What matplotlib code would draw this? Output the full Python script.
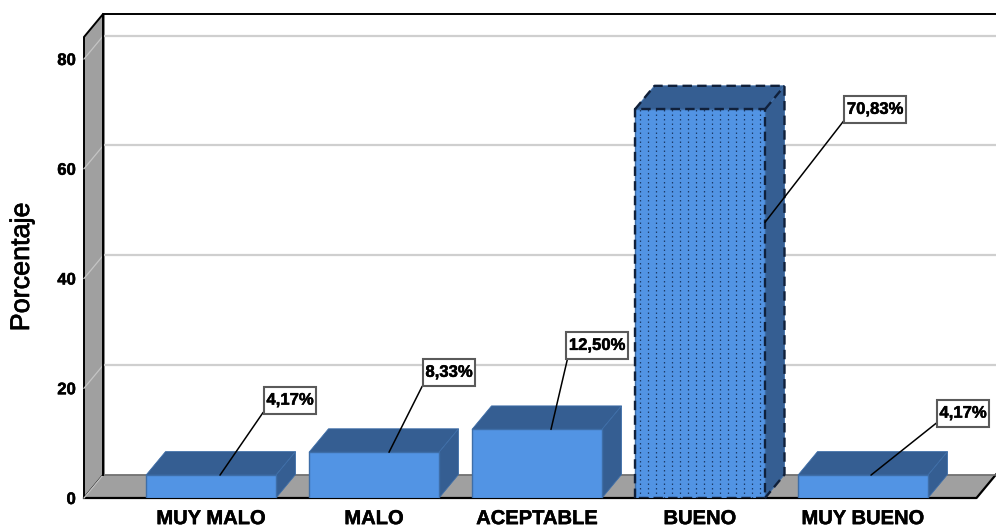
import matplotlib
matplotlib.use("Agg")
import matplotlib.pyplot as plt
from matplotlib.patches import Polygon
from matplotlib.path import Path
from matplotlib.transforms import ScaledTranslation
import matplotlib.patheffects as pe
import numpy as np

categories = ["MUY MALO", "MALO", "ACEPTABLE", "BUENO", "MUY BUENO"]
values = [4.17, 8.33, 12.50, 70.83, 4.17]
labels = ["4,17%", "8,33%", "12,50%", "70,83%", "4,17%"]
y_ticks = [0, 20, 40, 60, 80]

W, H = 996, 527
FACE, DARK, WALL = "#5294E4", "#355E92", "#A0A0A0"
FONT = "Liberation Sans"
# pixel geometry of the plot
L, R, B, T = 84, 996, 498, 37
STEP, PXU = 163.0, 5.4875
DX, DY = 19.5 / STEP, 23.5 / PXU
BAR_W = 130 / STEP
# label placement, pixels: anchor shift from bar centre/top, then box centre from anchor
anchor_shift = [(9, 0), (15, 0), (14, 0), (65, -113), (8, 0)]
box_offset = [(70, 75), (60, 80), (46, 84), (110, 113), (92, 62)]
heavy = [pe.withStroke(linewidth=0.35, foreground="black")]

def label_box(x0, y0, w, h, mutation_size):
    """Rectangle with more vertical than horizontal padding."""
    px, py = 2.5, 6.0
    x1, y1 = x0 - px, y0 - py
    x2, y2 = x0 + w + px, y0 + h + py
    return Path([(x1, y1), (x2, y1), (x2, y2), (x1, y2), (x1, y1)], closed=True)

fig = plt.figure(figsize=(W / 100, H / 100), dpi=100)
ax = fig.add_axes([L / W, 1 - B / H, (R - L) / W, (B - T) / H])
ax.set_xlim((L - 211) / STEP, (R - 211) / STEP)
ax.set_ylim(0, (B - T) / PXU)
xmin, xmax = ax.get_xlim()
ymin, ymax = ax.get_ylim()
for s in ax.spines.values():
    s.set_visible(False)

def poly(pts, **kw):
    p = Polygon(pts, closed=True, clip_on=False, **kw)
    ax.add_patch(p)
    return p

# walls
poly([(xmin, 0), (xmin + DX, DY), (xmin + DX, ymax + DY), (xmin, ymax)],
     fc=WALL, ec="black", lw=1.4, zorder=1)
poly([(xmin, 0), (xmax - DX, 0), (xmax, DY), (xmin + DX, DY)],
     fc=WALL, ec="none", zorder=1)
ax.plot([xmin, xmax - DX, xmax], [0, 0, DY], color="black", lw=1.6, clip_on=False, zorder=1.2)
ax.plot([xmin + DX, xmax], [DY, DY], color="#6e6e6e", lw=1.2, clip_on=False, zorder=1.2)
ax.plot([xmin + DX, xmin + DX, xmax], [DY, ymax + DY, ymax + DY], color="black", lw=1.4,
        clip_on=False, zorder=1.3)
for t in y_ticks:
    ax.plot([xmin, xmin + DX], [t, t + DY], color="#C4C4C4", lw=0.9, clip_on=False, zorder=1.25)
    if t > 0:
        ax.plot([xmin + DX, xmax], [t + DY, t + DY], color="#CFCFCF", lw=1.6, clip_on=False, zorder=1.1)

# bars
pos = np.arange(len(values))
rects = ax.bar(pos, values, width=BAR_W, color=FACE, edgecolor="#3E6EA8", lw=1.0, zorder=3)
for i, v in enumerate(values):
    a, b = i - BAR_W / 2, i + BAR_W / 2
    poly([(a, v), (b, v), (b + DX, v + DY), (a + DX, v + DY)], fc=DARK, ec="#3E6EA8", lw=0.6, zorder=2.5)
    poly([(b, 0), (b + DX, DY), (b + DX, v + DY), (b, v)], fc=DARK, ec="#3E6EA8", lw=0.6, zorder=2.5)
    if i == 3:
        ax.vlines(np.arange(a + 5 / STEP, b, 8 / STEP), 0, v, colors="#1C3A66", lw=0.9,
                  linestyles=[(0, (1.2, 2.4))], zorder=3.2)
        ls = (0, (4, 2.2))
        ax.plot([a, a, b, b, a], [0, v, v, 0, 0], color="#10203A", lw=1.7, ls=ls, zorder=3.4)
        ax.plot([a, a + DX, b + DX, b + DX, b], [v, v + DY, v + DY, DY, 0],
                color="#10203A", lw=1.7, ls=ls, clip_on=False, zorder=3.4)
        ax.plot([b, b + DX], [v, v + DY], color="#10203A", lw=1.7, ls=ls, zorder=3.4)

# labels with leader lines
for i, v in enumerate(values):
    sx, sy = anchor_shift[i]
    tr = ax.transData + ScaledTranslation(sx / 100, sy / 100, fig.dpi_scale_trans)
    dx, dy = box_offset[i]
    ann = ax.annotate(labels[i], xy=(i, v), xycoords=tr, xytext=(dx, dy), textcoords="offset pixels",
                ha="center", va="center", fontsize=12, fontweight="bold", family=FONT,
                color="black", zorder=6, annotation_clip=False,
                bbox=dict(boxstyle=label_box, fc="white", ec="#5A5A5A", lw=1.5),
                arrowprops=dict(arrowstyle="-", color="black", lw=1.1, shrinkA=0, shrinkB=0, relpos=(0, 0)))
    ann.set_path_effects(heavy)

ax.set_xticks(pos, categories, fontsize=14.5, fontweight="bold", family=FONT)
ax.set_yticks(y_ticks, [str(t) for t in y_ticks], fontsize=12, fontweight="bold", family=FONT)
for lab in ax.get_xticklabels() + ax.get_yticklabels():
    lab.set_path_effects(heavy)
ax.tick_params(axis="both", length=0)
ax.tick_params(axis="x", pad=8)
ax.tick_params(axis="y", pad=6)
ax.set_ylabel("")
fig.text(22 / W, 1 - 267 / H, "Porcentaje", rotation=90, ha="center", va="center",
         fontsize=19.4, family=FONT, color="black",
         path_effects=[pe.withStroke(linewidth=0.5, foreground="black")])
fig.savefig("out.png", dpi=100)
